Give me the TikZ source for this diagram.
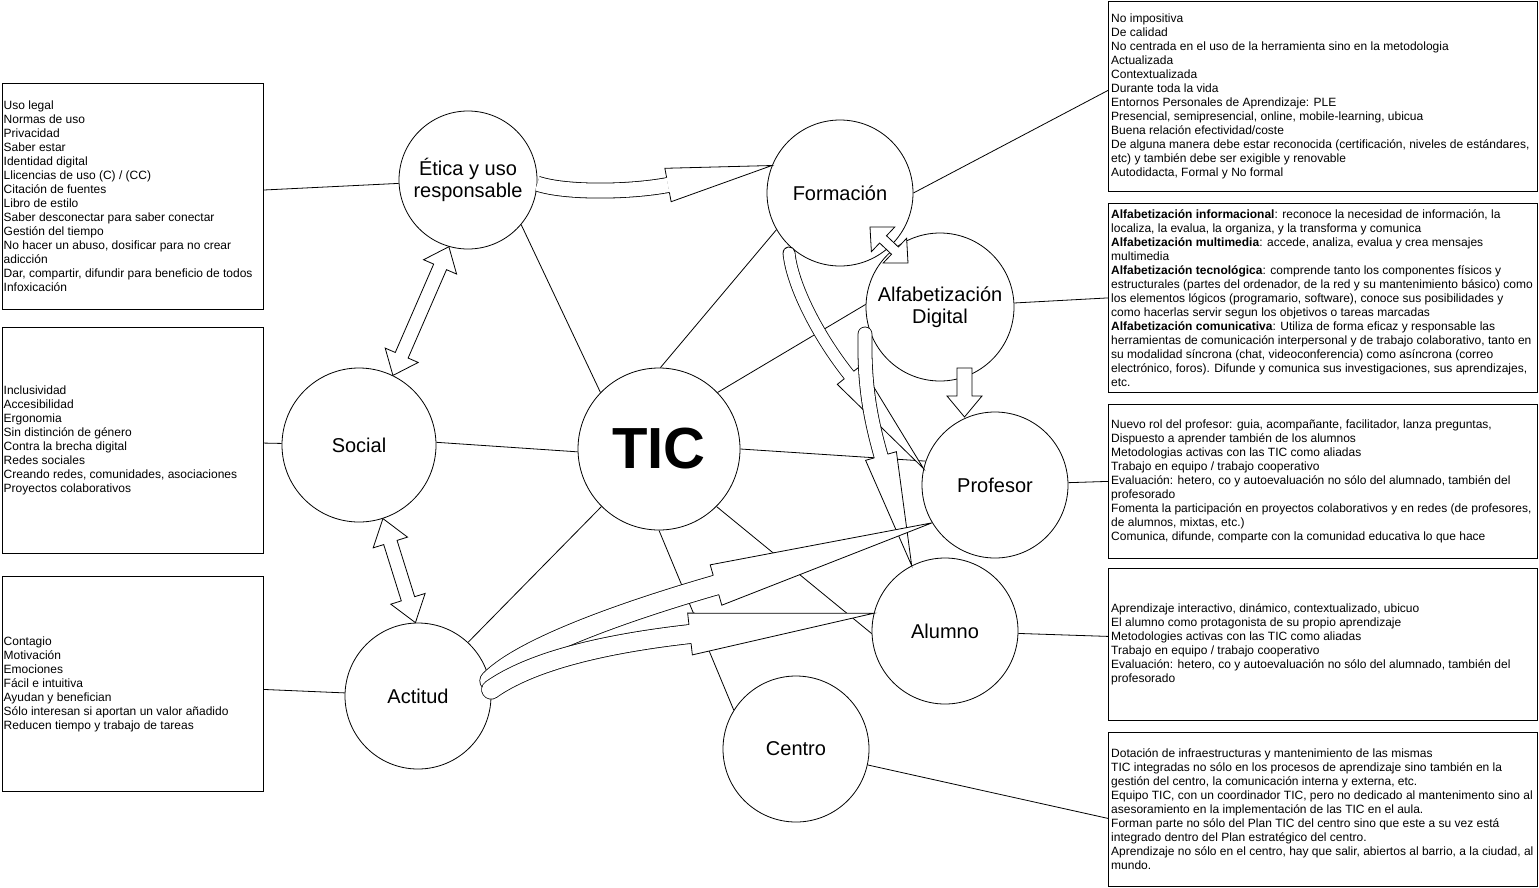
\documentclass[tikz,border=0pt]{standalone}
\usepackage{fontspec}
\setmainfont{Liberation Sans}
\usetikzlibrary{calc}
\tikzset{
  circ/.style={circle, draw, line width=0.8pt, fill=white, inner sep=0pt, align=center, font=\fontsize{20}{22}\selectfont},
  box/.style={draw, line width=0.8pt, inner sep=0pt, anchor=north west},
  boxtxt/.style={anchor=west, align=left, inner sep=0pt, font=\fontsize{12}{14}\selectfont},
  conn/.style={line width=0.8pt},
  blk/.style={draw, line width=0.8pt, fill=white, line join=miter},
  blkline/.style={line width=0.8pt, double=white},
}
% curved block arrow: #1 start, #2 control, #3 head base, #4 tip, #5 half shaft width, #6 double distance, #7 half head width, #8 end control length, #9 cap
\newcommand\curvblk[9]{%
  \draw[blkline, line cap=#9, double distance=#6] (#1) .. controls (#2) and ($(#3)!#8!180:(#4)$) .. (#3);
  \path[blk] ($(#3)!#5!90:(#4)$) -- ($(#3)!#7!90:(#4)$) -- (#4) -- ($(#3)!#7!-90:(#4)$) -- ($(#3)!#5!-90:(#4)$);
}
% straight double block arrow: #1 tip1, #2 tip2, #3 head length, #4 half head width, #5 half shaft width
\newcommand\dblblk[5]{%
  \path[blk] (#1) -- ($(#1)!#3!(#2)!#4!90:(#2)$) -- ($(#1)!#3!(#2)!#5!90:(#2)$)
    -- ($(#2)!#3!(#1)!#5!-90:(#1)$) -- ($(#2)!#3!(#1)!#4!-90:(#1)$) -- (#2)
    -- ($(#2)!#3!(#1)!#4!90:(#1)$) -- ($(#2)!#3!(#1)!#5!90:(#1)$)
    -- ($(#1)!#3!(#2)!#5!-90:(#2)$) -- ($(#1)!#3!(#2)!#4!-90:(#2)$) -- cycle;
}
\begin{document}
\begin{tikzpicture}[x=1pt, y=-1pt]
\useasboundingbox (0,0) rectangle (1539,887);
\fill[white] (0,0) rectangle (1539,887);

% circles
\node[circ, minimum size=138pt] (etica) at (468,180) {Ética y uso\\responsable};
\node[circ, minimum size=146pt] (formacion) at (840,193) {Formación};
\node[circ, minimum size=148pt] (alfa) at (940,307) {Alfabetización\\Digital};
\node[circ, minimum size=146pt] (profesor) at (995,485) {Profesor};
\node[circ, minimum size=146pt] (alumno) at (945,631) {Alumno};
\node[circ, minimum size=146pt] (centro) at (796,749) {Centro};
\node[circ, minimum size=146pt] (actitud) at (418,696) {Actitud};
\node[circ, minimum size=154pt] (social) at (359,445) {Social};
\node[circ, minimum size=162pt, font=\fontsize{58}{60}\selectfont\bfseries] (tic) at (659,449) {TIC};

% boxes
\node[box, minimum width=261pt, minimum height=226pt] (L1) at (2,83) {};
\node[box, minimum width=261pt, minimum height=226pt] (L2) at (2,327) {};
\node[box, minimum width=261pt, minimum height=215pt] (L3) at (2,576) {};
\node[box, minimum width=429pt, minimum height=190pt] (R1) at (1108,1) {};
\node[box, minimum width=429pt, minimum height=189pt] (R2) at (1108,203) {};
\node[box, minimum width=429pt, minimum height=154pt] (R3) at (1108,404) {};
\node[box, minimum width=429pt, minimum height=152pt] (R4) at (1108,568) {};
\node[box, minimum width=429pt, minimum height=154pt] (R5) at (1108,732) {};

% spokes
\draw[conn] (tic.136) -- (etica.320);
\draw[conn] (tic.89) -- (formacion.210);
\draw[conn] (tic.44) -- (alfa.178);
\draw[conn] (tic.182) -- (social.2);
\draw[conn] (tic.0) -- (profesor.161);
\draw[conn] (tic.315) -- (alumno.182);
\draw[conn] (tic.270) -- (centro.148);
\draw[conn] (tic.225) -- (actitud.47);

% box connectors
\draw[conn] (L1) -- (etica);
\draw[conn] (L2) -- (social);
\draw[conn] (L3) -- (actitud);
\draw[conn] (formacion.0) -- ([yshift=6pt]R1.west);
\draw[conn] (alfa) -- (R2.west);
\draw[conn] (profesor) -- (R3.west);
\draw[conn] (alumno) -- ([yshift=8pt]R4.west);
\draw[conn] (centro) -- ([yshift=-9pt]R5.west);

% box texts
\node[boxtxt] (L1t) at ([xshift=1.5pt]L1.west) {Uso legal\\Normas de uso\\Privacidad\\Saber estar\\Identidad digital\\Llicencias de uso (C) / (CC)\\Citación de fuentes\\Libro de estilo\\Saber desconectar para saber conectar\\Gestión del tiempo\\No hacer un abuso, dosificar para no crear\\adicción\\Dar, compartir, difundir para beneficio de todos\\Infoxicación};
\node[boxtxt] (L2t) at ([xshift=1.5pt]L2.west) {Inclusividad\\Accesibilidad\\Ergonomia\\Sin distinción de género\\Contra la brecha digital\\Redes sociales\\Creando redes, comunidades, asociaciones\\Proyectos colaborativos};
\node[boxtxt] (L3t) at ([xshift=1.5pt]L3.west) {Contagio\\Motivación\\Emociones\\Fácil e intuitiva\\Ayudan y benefician\\Sólo interesan si aportan un valor añadido\\Reducen tiempo y trabajo de tareas};
\node[boxtxt] (R1t) at ([xshift=3pt]R1.west) {No impositiva\\De calidad\\No centrada en el uso de la herramienta sino en la metodologia\\Actualizada\\Contextualizada\\Durante toda la vida\\Entornos Personales de Aprendizaje: PLE\\Presencial, semipresencial, online, mobile-learning, ubicua\\Buena relación efectividad/coste\\De alguna manera debe estar reconocida (certificación, niveles de estándares,\\etc) y también debe ser exigible y renovable\\Autodidacta, Formal y No formal};
\node[boxtxt] (R2t) at ([xshift=3pt]R2.west) {\textbf{Alfabetización informacional}: reconoce la necesidad de información, la\\localiza, la evalua, la organiza, y la transforma y comunica\\\textbf{Alfabetización multimedia}: accede, analiza, evalua y crea mensajes\\multimedia\\\textbf{Alfabetización tecnológica}: comprende tanto los componentes físicos y\\estructurales (partes del ordenador, de la red y su mantenimiento básico) como\\los elementos lógicos (programario, software), conoce sus posibilidades y\\como hacerlas servir segun los objetivos o tareas marcadas\\\textbf{Alfabetización comunicativa}: Utiliza de forma eficaz y responsable las\\herramientas de comunicación interpersonal y de trabajo colaborativo, tanto en\\su modalidad síncrona (chat, videoconferencia) como asíncrona (correo\\electrónico, foros). Difunde y comunica sus investigaciones, sus aprendizajes,\\etc.};
\node[boxtxt] (R3t) at ([xshift=3pt]R3.west) {Nuevo rol del profesor: guia, acompañante, facilitador, lanza preguntas,\\Dispuesto a aprender también de los alumnos\\Metodologias activas con las TIC como aliadas\\Trabajo en equipo / trabajo cooperativo\\Evaluación: hetero, co y autoevaluación no sólo del alumnado, también del\\profesorado\\Fomenta la participación en proyectos colaborativos y en redes (de profesores,\\de alumnos, mixtas, etc.)\\Comunica, difunde, comparte con la comunidad educativa lo que hace};
\node[boxtxt] (R4t) at ([xshift=3pt]R4.west) {Aprendizaje interactivo, dinámico, contextualizado, ubicuo\\El alumno como protagonista de su propio aprendizaje\\Metodologies activas con las TIC como aliadas\\Trabajo en equipo / trabajo cooperativo\\Evaluación: hetero, co y autoevaluación no sólo del alumnado, también del\\profesorado};
\node[boxtxt] (R5t) at ([xshift=3pt]R5.west) {Dotación de infraestructuras y mantenimiento de las mismas\\TIC integradas no sólo en los procesos de aprendizaje sino también en la\\gestión del centro, la comunicación interna y externa, etc.\\Equipo TIC, con un coordinador TIC, pero no dedicado al mantenimento sino al\\asesoramiento en la implementación de las TIC en el aula.\\Forman parte no sólo del Plan TIC del centro sino que este a su vez está\\integrado dentro del Plan estratégico del centro.\\Aprendizaje no sólo en el centro, hay que salir, abiertos al barrio, a la ciudad, al\\mundo.};

% block arrows
\curvblk{etica.-3}{565,193}{668,185}{formacion.158}{7.5pt}{14.2pt}{17pt}{40pt}{butt}
\curvblk{789,253}{792,285}{849,375}{profesor.167}{6pt}{11.2pt}{15pt}{50pt}{round}
\curvblk{865,334}{864,385}{881,456}{alumno.117}{7pt}{13.2pt}{16pt}{40pt}{round}
\curvblk{actitud.12}{525,645}{716,585}{profesor.211}{10pt}{19.2pt}{21pt}{80pt}{round}
\curvblk{actitud.5}{530,662}{690,634}{alumno.166}{9.5pt}{18.2pt}{21pt}{90pt}{round}
\path[blk] (957,368) -- (972,368) -- (972,396) -- (982,396) -- (964.5,417) -- (947,396) -- (957,396) -- cycle;
\dblblk{870,227}{908,263}{18pt}{17pt}{5pt}
\dblblk{etica.254}{social.64}{22pt}{18pt}{7pt}
\dblblk{social.-72}{actitud.92}{25pt}{18pt}{7pt}
\end{tikzpicture}
\end{document}
